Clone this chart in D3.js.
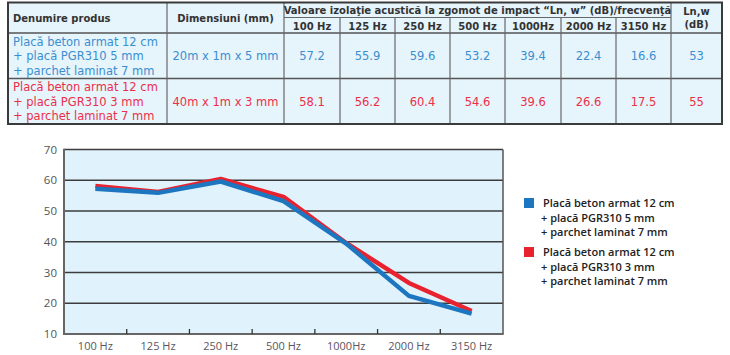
<!DOCTYPE html>
<html><head><meta charset="utf-8">
<script src="https://cdn.jsdelivr.net/npm/d3@7/dist/d3.min.js"></script>
<style>html,body{margin:0;padding:0;background:#fff;}svg{display:block;}</style>
</head><body>
<svg id="c" width="730" height="355"></svg>
<script>
// ---- data ----
const categories = ["100 Hz","125 Hz","250 Hz","500 Hz","1000Hz","2000 Hz","3150 Hz"];
const tableFreqLabels = ["100 Hz","125 Hz","250 Hz","500 Hz","1000Hz","2000 Hz","3150 Hz"];
const seriesBlue = [57.2,55.9,59.6,53.2,39.4,22.4,16.6];
const seriesRed  = [58.1,56.2,60.4,54.6,39.6,26.6,17.5];
const lnwValues = [53,55];
const productLines = [
  ["Placă beton armat 12 cm","+ placă PGR310 5 mm","+ parchet laminat 7 mm"],
  ["Placă beton armat 12 cm","+ placă PGR310 3 mm","+ parchet laminat 7 mm"]
];
const dimensions = ["20m x 1m x 5 mm","40m x 1m x 3 mm"];
const legendLines = [
  ["Placă beton armat 12 cm","+ placă PGR310 5 mm","+ parchet laminat 7 mm"],
  ["Placă beton armat 12 cm","+ placă PGR310 3 mm","+ parchet laminat 7 mm"]
];
const yTicks = [10,20,30,40,50,60,70];
const headerProduct = "Denumire produs";
const headerDims = "Dimensiuni (mm)";
const headerValues = "Valoare izolaţie acustică la zgomot de impact “Ln, w” (dB)/frecvenţă";
const headerLnw = ["Ln,w","(dB)"];

const svg = d3.select("#c");
const tableBlue = "#3a8fd1", tableRed = "#ec2f48";
const lineBlue = "#1d76c0", lineRed = "#e8222f";

// ---- table ----
const colX = [8,167,284,340,395,450,505,561,616,671,722];
const yTop = 2.5, yHeadSplit = 17.5, yHeadBot = 33, yRowSplit = 78.5, yBot = 124;
const tf = "DejaVu Sans, Verdana, sans-serif";
const t = svg.append("g");
t.append("rect").attr("x",colX[0]).attr("y",yTop).attr("width",colX[10]-colX[0]).attr("height",yBot-yTop).attr("fill","#e6f4fc");
const ln = (x1,y1,x2,y2,w,c)=>t.append("line").attr("x1",x1).attr("y1",y1).attr("x2",x2).attr("y2",y2).attr("stroke",c||"#555").attr("stroke-width",w||1);
ln(colX[2],yHeadSplit,colX[9],yHeadSplit,1,"#666");
ln(colX[0],yHeadBot,colX[10],yHeadBot,1.3,"#555");
ln(colX[0],yRowSplit,colX[10],yRowSplit,1.3,"#555");
[1,2,9].forEach(i=>ln(colX[i],yTop,colX[i],yBot,1.2,"#666"));
[3,4,5,6,7,8].forEach(i=>ln(colX[i],yHeadSplit,colX[i],yBot,1.2,"#666"));
t.append("rect").attr("x",colX[0]).attr("y",yTop).attr("width",colX[10]-colX[0]).attr("height",yBot-yTop).attr("fill","none").attr("stroke","#3a3a3a").attr("stroke-width",2);

const txt = (x,y,s,o)=>t.append("text").attr("x",x).attr("y",y).text(s)
  .attr("font-family",tf).attr("font-size",o.size||12).attr("font-weight",o.bold?"bold":"normal")
  .attr("fill",o.fill||"#333").attr("text-anchor",o.anchor||"start");
const hb = {bold:true,size:10,fill:"#333"};
txt(13,22,headerProduct,hb);
txt((colX[1]+colX[2])/2,22,headerDims,Object.assign({anchor:"middle"},hb));
txt((colX[2]+colX[9])/2,14,headerValues,Object.assign({anchor:"middle"},hb));
tableFreqLabels.forEach((l,i)=>txt((colX[2+i]+colX[3+i])/2,29.5,l,Object.assign({anchor:"middle"},hb)));
txt((colX[9]+colX[10])/2,14.5,headerLnw[0],Object.assign({anchor:"middle"},hb));
txt((colX[9]+colX[10])/2,28,headerLnw[1],Object.assign({anchor:"middle"},hb));

const rowsY = [[yHeadBot,yRowSplit],[yRowSplit,yBot]];
const rowSeries = [seriesBlue,seriesRed];
const rowColors = [tableBlue,tableRed];
rowsY.forEach((r,ri)=>{
  const c = rowColors[ri];
  const mid = (r[0]+r[1])/2;
  productLines[ri].forEach((s,li)=>txt(13,mid-10+li*14.5,s,{size:11.5,fill:c}));
  txt((colX[1]+colX[2])/2,mid+4.5,dimensions[ri],{size:11.5,fill:c,anchor:"middle"});
  rowSeries[ri].forEach((v,vi)=>txt((colX[2+vi]+colX[3+vi])/2,mid+4.5,v.toFixed(1),{size:11.5,fill:c,anchor:"middle"}));
  txt((colX[9]+colX[10])/2,mid+4.5,lnwValues[ri],{size:11.5,fill:c,anchor:"middle"});
});

// ---- chart ----
const px0 = 64, px1 = 503, py0 = 149.5, py1 = 334;
const x = d3.scaleBand().domain(categories).range([px0,px1]).padding(0);
const y = d3.scaleLinear().domain([10,70]).range([py1,py0]);
const g = svg.append("g");
g.append("rect").attr("x",px0).attr("y",py0).attr("width",px1-px0).attr("height",py1-py0).attr("fill","#e0f2fc");
g.selectAll(".grid").data(yTicks.filter(d=>d>10)).enter().append("line")
  .attr("x1",px0).attr("x2",px1).attr("y1",d=>y(d)).attr("y2",d=>y(d))
  .attr("stroke","#3c3c3c").attr("stroke-width",1.3);
g.append("line").attr("x1",px1).attr("x2",px1).attr("y1",py0).attr("y2",py1).attr("stroke","#555").attr("stroke-width",1.5);
g.append("line").attr("x1",px0).attr("x2",px0).attr("y1",py0-0.7).attr("y2",py1+1).attr("stroke","#666").attr("stroke-width",2);
g.append("line").attr("x1",px0-1).attr("x2",px1+0.7).attr("y1",py1).attr("y2",py1).attr("stroke","#666").attr("stroke-width",2);
g.selectAll(".xt").data(categories.slice(1)).enter().append("line")
  .attr("x1",d=>x(d)).attr("x2",d=>x(d)).attr("y1",py1).attr("y2",py1-5)
  .attr("stroke","#333").attr("stroke-width",1.3);
const af = "'Open Sans', sans-serif";
g.selectAll(".yl").data(yTicks).enter().append("text")
  .attr("x",57).attr("y",d=>y(d)+4).attr("text-anchor","end")
  .attr("font-family",af).attr("font-size",11.5).attr("fill","#555").text(d=>d);
g.selectAll(".xl").data(categories).enter().append("text")
  .attr("x",d=>x(d)+x.bandwidth()/2).attr("y",py1+16).attr("text-anchor","middle")
  .attr("font-family",af).attr("font-size",11).attr("fill","#5a5560").text(d=>d);
const line = d3.line().x((d,i)=>x(categories[i])+x.bandwidth()/2).y(d=>y(d));
g.append("path").attr("d",line(seriesRed)).attr("fill","none").attr("stroke",lineRed).attr("stroke-width",4.5).attr("stroke-linejoin","round");
g.append("path").attr("d",line(seriesBlue)).attr("fill","none").attr("stroke",lineBlue).attr("stroke-width",4.5).attr("stroke-linejoin","round");

// legend
const lg = svg.append("g");
const legColors = [lineBlue,lineRed];
const legTop = [198,247];
legendLines.forEach((lines,i)=>{
  lg.append("rect").attr("x",524).attr("y",legTop[i]).attr("width",10).attr("height",10).attr("fill",legColors[i]);
  lines.forEach((s,li)=>lg.append("text").attr("x",li===0?543:541).attr("y",legTop[i]+9+li*14.5)
    .attr("font-family",af).attr("font-weight",600).attr("font-size",11).attr("fill","#222").text(s));
});
</script>
</body></html>
